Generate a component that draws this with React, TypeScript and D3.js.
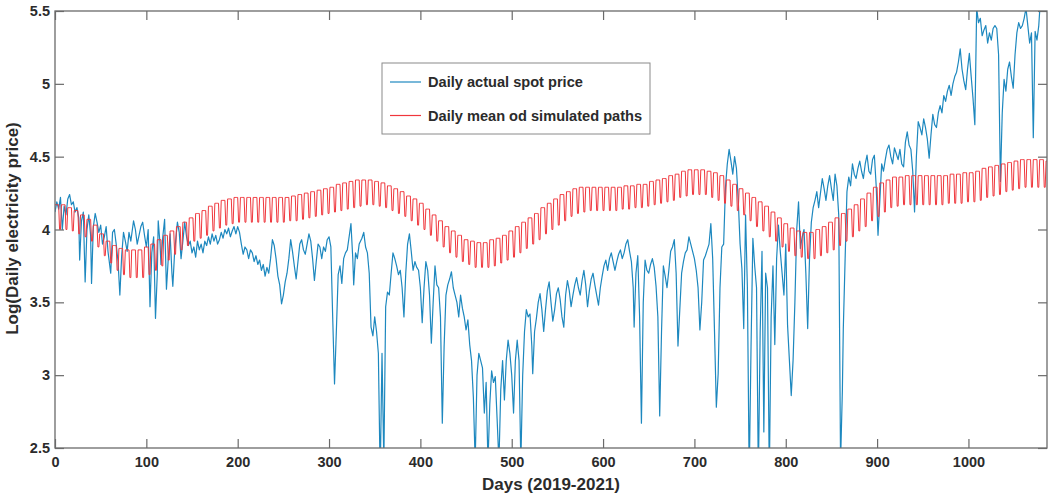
import React, { useEffect, useRef } from 'react';
import * as d3 from 'd3';

// x axis runs over the days of 2019-2021
const lastDay = 1086;
const xTicks = [0, 100, 200, 300, 400, 500, 600, 700, 800, 900, 1000];
const yTicks = [2.5, 3, 3.5, 4, 4.5, 5, 5.5];

// Daily actual spot price (log) as [day, value]
const spotPrice: [number, number][] = [
  [0, 4.12], [2, 4.19], [4, 4.14], [6, 4.22], [8, 4.0], [10, 4.16], [12, 4.1], [14, 4.21], [16, 4.24], [18, 4.17],
  [20, 4.19], [22, 4.12], [24, 4.15], [26, 4.08], [27, 3.79], [29, 4.06], [31, 4.12], [33, 3.64], [35, 4.0], [37, 4.1],
  [39, 3.96], [40, 3.63], [42, 4.02], [44, 4.11], [46, 4.05], [48, 3.98], [50, 4.03], [52, 3.9], [54, 3.95], [56, 4.02],
  [58, 3.85], [61, 3.7], [63, 3.98], [65, 4.0], [67, 3.9], [69, 3.78], [71, 3.55], [73, 3.82], [75, 3.98], [77, 3.92],
  [79, 3.85], [81, 3.98], [83, 3.92], [86, 4.06], [88, 4.0], [90, 3.9], [92, 3.96], [94, 4.02], [96, 4.05], [98, 3.96],
  [100, 3.88], [102, 4.0], [104, 3.47], [106, 3.84], [108, 3.95], [110, 3.39], [112, 3.7], [113, 4.06], [115, 3.9], [116, 3.76],
  [118, 3.95], [120, 4.07], [122, 3.59], [124, 3.8], [126, 3.97], [128, 3.7], [129, 3.61], [131, 3.85], [134, 4.05], [136, 3.98],
  [138, 3.8], [140, 3.92], [142, 4.05], [144, 3.95], [146, 3.89], [148, 3.92], [150, 3.84], [152, 3.88], [154, 3.81], [156, 3.92],
  [158, 3.86], [160, 3.9], [162, 3.84], [164, 3.92], [166, 3.89], [168, 3.95], [170, 3.9], [172, 3.97], [174, 3.92], [176, 3.96],
  [178, 3.9], [180, 3.93], [182, 3.98], [184, 3.94], [186, 4.0], [188, 3.97], [190, 4.01], [192, 3.95], [194, 3.99], [196, 4.02],
  [198, 3.97], [200, 4.02], [202, 3.98], [204, 3.9], [206, 3.83], [208, 3.88], [210, 3.86], [212, 3.8], [214, 3.86], [216, 3.84],
  [218, 3.78], [220, 3.82], [222, 3.76], [224, 3.79], [226, 3.72], [228, 3.76], [230, 3.68], [232, 3.74], [234, 3.7], [236, 3.8],
  [238, 3.93], [240, 3.89], [242, 3.8], [244, 3.68], [246, 3.62], [248, 3.49], [250, 3.55], [252, 3.64], [254, 3.7], [256, 3.8],
  [258, 3.93], [260, 3.85], [262, 3.75], [264, 3.66], [266, 3.78], [268, 3.9], [270, 3.93], [272, 3.86], [274, 3.83], [276, 3.9],
  [278, 3.97], [280, 3.92], [282, 3.8], [284, 3.65], [286, 3.78], [288, 3.9], [290, 3.88], [292, 3.8], [294, 3.88], [296, 3.85],
  [298, 3.93], [300, 3.95], [302, 3.88], [304, 3.4], [306, 2.94], [308, 3.3], [310, 3.69], [312, 3.75], [314, 3.63], [316, 3.8],
  [318, 3.84], [320, 3.86], [322, 3.95], [324, 4.04], [326, 3.8], [327, 3.62], [329, 3.84], [331, 3.8], [333, 3.9], [336, 3.94],
  [338, 3.98], [340, 3.88], [342, 3.84], [344, 3.7], [346, 3.33], [348, 3.27], [350, 3.4], [352, 3.3], [354, 3.15], [356, 2.3],
  [358, 3.15], [360, 2.4], [362, 3.47], [364, 3.57], [366, 3.55], [368, 3.7], [370, 3.84], [372, 3.8], [374, 3.75], [376, 3.69],
  [378, 3.72], [380, 3.6], [382, 3.4], [384, 3.7], [386, 3.9], [388, 3.97], [390, 3.85], [392, 3.72], [394, 3.78], [396, 3.74],
  [398, 3.72], [400, 3.6], [402, 3.36], [404, 3.6], [406, 3.78], [408, 3.72], [410, 3.55], [412, 3.22], [414, 3.5], [416, 3.75],
  [418, 3.62], [420, 3.6], [422, 3.4], [424, 2.67], [426, 3.2], [428, 3.55], [430, 3.62], [432, 3.66], [434, 3.71], [436, 3.6],
  [438, 3.55], [440, 3.5], [442, 3.4], [444, 3.55], [446, 3.46], [448, 3.4], [450, 3.31], [452, 3.38], [454, 3.21], [456, 3.1],
  [458, 2.85], [460, 2.4], [462, 3.0], [464, 3.15], [466, 3.1], [468, 3.05], [470, 2.74], [472, 2.95], [474, 2.4], [476, 2.8],
  [478, 3.03], [480, 2.95], [482, 2.99], [484, 2.7], [486, 2.4], [488, 2.9], [490, 3.1], [492, 2.83], [494, 3.1], [496, 3.24],
  [498, 3.15], [500, 3.0], [502, 2.74], [504, 3.1], [506, 3.24], [508, 3.1], [510, 2.4], [512, 3.0], [514, 3.3], [516, 3.45],
  [518, 3.4], [520, 3.42], [522, 3.2], [523, 3.01], [525, 3.3], [527, 3.39], [529, 3.5], [531, 3.56], [533, 3.45], [535, 3.3],
  [537, 3.45], [539, 3.58], [541, 3.64], [543, 3.5], [545, 3.37], [547, 3.45], [549, 3.56], [551, 3.6], [553, 3.52], [555, 3.4],
  [557, 3.33], [559, 3.55], [561, 3.65], [563, 3.58], [565, 3.47], [567, 3.55], [569, 3.62], [571, 3.67], [573, 3.6], [575, 3.55],
  [577, 3.65], [579, 3.72], [581, 3.62], [583, 3.47], [585, 3.58], [587, 3.66], [589, 3.7], [591, 3.62], [593, 3.55], [595, 3.48],
  [597, 3.6], [599, 3.68], [601, 3.75], [603, 3.79], [605, 3.72], [607, 3.8], [609, 3.84], [611, 3.78], [613, 3.72], [615, 3.78],
  [617, 3.83], [619, 3.86], [621, 3.8], [623, 3.84], [625, 3.9], [627, 3.93], [629, 3.85], [631, 3.78], [633, 3.6], [634, 3.33],
  [636, 3.7], [638, 3.82], [640, 3.4], [642, 2.67], [644, 3.5], [646, 3.79], [648, 3.72], [650, 3.7], [652, 3.76], [654, 3.8],
  [656, 3.74], [658, 3.61], [660, 3.4], [662, 2.72], [664, 3.3], [666, 3.75], [668, 3.68], [670, 3.6], [672, 3.72], [674, 3.85],
  [676, 3.88], [678, 3.93], [680, 3.7], [682, 3.2], [684, 3.45], [686, 3.7], [688, 3.78], [690, 3.84], [692, 3.86], [694, 3.95],
  [696, 3.9], [698, 3.85], [700, 3.8], [702, 3.72], [704, 3.6], [706, 3.31], [708, 3.5], [710, 3.79], [712, 3.82], [714, 3.86],
  [716, 3.9], [718, 4.04], [720, 3.8], [722, 3.3], [724, 2.78], [726, 3.01], [728, 3.6], [730, 3.88], [732, 3.9], [734, 4.29],
  [736, 4.45], [738, 4.55], [740, 4.47], [742, 4.38], [744, 4.5], [746, 4.42], [748, 4.2], [750, 3.9], [752, 3.73], [754, 3.32],
  [756, 4.1], [758, 3.6], [760, 2.3], [762, 3.2], [764, 3.94], [766, 3.75], [768, 3.6], [770, 2.3], [772, 3.3], [774, 3.85],
  [776, 2.61], [778, 3.7], [780, 3.6], [782, 2.3], [784, 3.4], [786, 3.75], [788, 3.21], [790, 3.8], [792, 4.03], [794, 3.85],
  [796, 3.7], [798, 3.55], [800, 3.9], [802, 3.34], [804, 3.1], [806, 2.86], [808, 3.1], [810, 3.5], [812, 4.0], [814, 4.19],
  [816, 3.87], [818, 3.95], [820, 4.0], [822, 3.7], [824, 3.32], [826, 3.8], [828, 4.05], [830, 4.15], [832, 4.2], [834, 4.26],
  [836, 4.15], [838, 4.25], [840, 4.35], [842, 4.28], [844, 4.2], [846, 4.3], [848, 4.37], [850, 4.28], [852, 4.2], [854, 4.38],
  [856, 4.3], [858, 4.1], [860, 2.4], [862, 2.9], [863, 3.32], [865, 3.8], [867, 4.26], [869, 4.36], [871, 4.3], [873, 4.45],
  [875, 4.38], [877, 4.35], [879, 4.42], [881, 4.47], [883, 4.4], [885, 4.35], [887, 4.45], [889, 4.51], [891, 4.4], [893, 4.38],
  [895, 4.48], [897, 4.51], [899, 4.3], [901, 3.96], [903, 4.2], [905, 4.45], [907, 4.4], [909, 4.48], [911, 4.55], [913, 4.58],
  [915, 4.5], [917, 4.45], [919, 4.56], [921, 4.52], [923, 4.48], [925, 4.55], [927, 4.45], [929, 4.43], [931, 4.6], [933, 4.67],
  [935, 4.58], [937, 4.55], [939, 4.4], [941, 4.12], [943, 4.5], [945, 4.74], [947, 4.7], [949, 4.65], [951, 4.76], [953, 4.7],
  [955, 4.62], [957, 4.49], [959, 4.65], [961, 4.79], [963, 4.72], [965, 4.7], [967, 4.8], [969, 4.85], [971, 4.8], [973, 4.92],
  [975, 4.88], [977, 4.95], [979, 4.99], [981, 4.92], [983, 5.0], [985, 5.05], [987, 5.08], [989, 5.15], [991, 5.24], [993, 5.1],
  [995, 5.02], [997, 4.96], [999, 5.1], [1001, 5.21], [1003, 5.05], [1005, 4.9], [1007, 4.72], [1009, 5.52], [1011, 5.42], [1013, 5.45],
  [1015, 5.33], [1017, 5.37], [1019, 5.4], [1021, 5.28], [1023, 5.35], [1025, 5.3], [1027, 5.38], [1029, 5.4], [1031, 5.38], [1033, 5.2],
  [1035, 4.33], [1037, 4.8], [1039, 5.03], [1041, 4.95], [1043, 5.1], [1045, 5.15], [1047, 5.05], [1049, 4.97], [1051, 5.2], [1053, 5.35],
  [1055, 5.42], [1057, 5.38], [1059, 5.4], [1061, 5.45], [1063, 5.52], [1065, 5.4], [1067, 5.28], [1069, 5.35], [1071, 4.63], [1073, 5.36],
  [1075, 5.3], [1077, 5.4], [1079, 5.6], [1081, 5.65], [1083, 5.7], [1086, 5.75],
];

// Daily mean of simulated paths: weekly working-day level and weekend level
const simWeekHigh = [
  4.17, 4.17, 4.15, 4.13, 4.1, 4.07, 4.03, 3.97, 3.92, 3.89,
  3.87, 3.86, 3.86, 3.86, 3.88, 3.9, 3.93, 3.96, 3.99, 4.02,
  4.05, 4.08, 4.11, 4.13, 4.16, 4.18, 4.2, 4.21, 4.22, 4.22,
  4.22, 4.22, 4.22, 4.22, 4.22, 4.22, 4.22, 4.23, 4.24, 4.25,
  4.26, 4.27, 4.28, 4.29, 4.31, 4.32, 4.33, 4.34, 4.34, 4.34,
  4.33, 4.32, 4.3, 4.28, 4.26, 4.23, 4.21, 4.18, 4.14, 4.1,
  4.06, 4.02, 3.99, 3.96, 3.93, 3.92, 3.91, 3.91, 3.93, 3.94,
  3.96, 3.99, 4.02, 4.05, 4.08, 4.11, 4.15, 4.18, 4.21, 4.24,
  4.26, 4.28, 4.29, 4.29, 4.29, 4.29, 4.29, 4.29, 4.29, 4.3,
  4.3, 4.31, 4.31, 4.33, 4.34, 4.35, 4.37, 4.38, 4.4, 4.41,
  4.41, 4.41, 4.4, 4.39, 4.37, 4.34, 4.31, 4.28, 4.25, 4.22,
  4.19, 4.16, 4.12, 4.08, 4.04, 4.01, 3.99, 3.98, 3.98, 4.0,
  4.02, 4.05, 4.08, 4.11, 4.14, 4.17, 4.21, 4.25, 4.29, 4.32,
  4.34, 4.36, 4.36, 4.37, 4.37, 4.37, 4.37, 4.37, 4.37, 4.37,
  4.38, 4.38, 4.39, 4.39, 4.4, 4.42, 4.43, 4.44, 4.45, 4.46,
  4.47, 4.48, 4.48, 4.48, 4.48, 4.47,
];
const simWeekLow = [
  4.0, 4.0, 3.99, 3.97, 3.95, 3.92, 3.88, 3.82, 3.77, 3.72,
  3.69, 3.67, 3.67, 3.67, 3.69, 3.72, 3.75, 3.79, 3.83, 3.86,
  3.89, 3.92, 3.94, 3.96, 3.99, 4.01, 4.03, 4.04, 4.05, 4.05,
  4.05, 4.05, 4.05, 4.05, 4.05, 4.05, 4.06, 4.06, 4.07, 4.08,
  4.09, 4.1, 4.11, 4.12, 4.13, 4.14, 4.15, 4.16, 4.17, 4.17,
  4.16, 4.15, 4.13, 4.11, 4.09, 4.06, 4.03, 4.0, 3.96, 3.92,
  3.88, 3.84, 3.81, 3.78, 3.76, 3.74, 3.74, 3.74, 3.75, 3.77,
  3.79, 3.81, 3.84, 3.87, 3.9, 3.93, 3.97, 4.0, 4.03, 4.06,
  4.09, 4.11, 4.12, 4.13, 4.13, 4.13, 4.13, 4.13, 4.14, 4.14,
  4.15, 4.15, 4.16, 4.17, 4.18, 4.19, 4.2, 4.22, 4.23, 4.24,
  4.24, 4.24, 4.22, 4.2, 4.18, 4.16, 4.13, 4.1, 4.06, 4.02,
  3.99, 3.95, 3.92, 3.88, 3.85, 3.82, 3.81, 3.8, 3.8, 3.82,
  3.84, 3.86, 3.89, 3.92, 3.95, 3.99, 4.02, 4.06, 4.09, 4.12,
  4.15, 4.16, 4.17, 4.17, 4.17, 4.17, 4.17, 4.17, 4.17, 4.18,
  4.18, 4.18, 4.19, 4.19, 4.2, 4.22, 4.23, 4.24, 4.26, 4.27,
  4.28, 4.29, 4.29, 4.29, 4.29, 4.28,
];
// which level each day of the week sits on
const weekdayLevel = ['high', 'high', 'high', 'high', 'high', 'low', 'low'];

const seriesNames = ['Daily actual spot price', 'Daily mean od simulated paths'];
const seriesColors = ['#1d88bf', '#f0363c'];

const W = 1048, H = 496;
const margin = { top: 11, right: 1, bottom: 48, left: 55 };
const font = '"Liberation Sans", Arial, Helvetica, sans-serif';
const axisGray = '#6a6a6a';
const textGray = '#2b2b2b';

function App() {
  const ref = useRef<SVGSVGElement>(null);

  useEffect(() => {
    const svg = d3.select(ref.current);
    svg.selectAll('*').remove();

    const width = W - margin.left - margin.right;
    const height = H - margin.top - margin.bottom;

    const x = d3.scaleLinear().domain([0, lastDay]).range([0, width]);
    const y = d3.scaleLinear().domain([2.5, 5.5]).range([height, 0]);

    const chart = svg.append('g').attr('transform', `translate(${margin.left},${margin.top})`);

    chart.append('clipPath').attr('id', 'plotClip')
      .append('rect').attr('width', width).attr('height', height);

    // simulated mean, expanded week by week
    const simPoints: [number, number][] = [];
    simWeekHigh.forEach((hi, w) => {
      weekdayLevel.forEach((lvl, d) => {
        const day = w * 7 + d;
        if (day > lastDay) return;
        simPoints.push([day, lvl === 'high' ? hi : simWeekLow[w]]);
      });
    });

    const line = d3.line<[number, number]>()
      .x(d => x(d[0]))
      .y(d => y(d[1]));

    const plot = chart.append('g').attr('clip-path', 'url(#plotClip)');

    plot.append('path')
      .datum(spotPrice)
      .attr('d', line)
      .attr('fill', 'none')
      .attr('stroke', seriesColors[0])
      .attr('stroke-width', 1.2)
      .attr('stroke-linejoin', 'round');

    plot.append('path')
      .datum(simPoints)
      .attr('d', line)
      .attr('fill', 'none')
      .attr('stroke', seriesColors[1])
      .attr('stroke-width', 1)
      .attr('stroke-linejoin', 'miter');

    // ------- AXES (inward ticks, matlab style box) -------
    const styleAxis = (g: any) => {
      g.select('.domain').remove();
      g.selectAll('.tick line').attr('stroke', axisGray).attr('stroke-width', 1.2);
      g.selectAll('.tick text')
        .attr('fill', textGray)
        .style('font-family', font)
        .style('font-size', '14.5px')
        .style('font-weight', 'bold');
    };

    chart.append('g')
      .attr('transform', `translate(0,${height})`)
      .call(d3.axisBottom(x).tickValues(xTicks).tickSizeInner(-9).tickSizeOuter(0).tickPadding(9).tickFormat(d3.format('d')))
      .call(styleAxis);

    chart.append('g')
      .call(d3.axisTop(x).tickValues(xTicks).tickSizeInner(-9).tickSizeOuter(0).tickFormat(() => ''))
      .call(styleAxis);

    chart.append('g')
      .call(d3.axisLeft(y).tickValues(yTicks).tickSizeInner(-9).tickSizeOuter(0).tickPadding(5).tickFormat(d => String(d)))
      .call(styleAxis);

    chart.append('g')
      .attr('transform', `translate(${width},0)`)
      .call(d3.axisRight(y).tickValues(yTicks).tickSizeInner(-9).tickSizeOuter(0).tickFormat(() => ''))
      .call(styleAxis);

    chart.append('rect')
      .attr('width', width).attr('height', height)
      .attr('fill', 'none')
      .attr('stroke', axisGray)
      .attr('stroke-width', 1.3);

    // ------- Labels -------
    chart.append('text')
      .attr('x', width / 2)
      .attr('y', height + 42)
      .attr('text-anchor', 'middle')
      .attr('fill', textGray)
      .style('font-family', font)
      .style('font-size', '17px')
      .style('font-weight', 'bold')
      .text('Days (2019-2021)');

    chart.append('text')
      .attr('transform', 'rotate(-90)')
      .attr('x', -height / 2 + 1)
      .attr('y', -margin.left + 18)
      .attr('text-anchor', 'middle')
      .attr('fill', textGray)
      .style('font-family', font)
      .style('font-size', '17px')
      .style('font-weight', 'bold')
      .text('Log(Daily electricity price)');

    // ------- Legend -------
    const legend = svg.append('g').attr('transform', 'translate(382,63)');
    legend.append('rect')
      .attr('width', 268).attr('height', 71)
      .attr('fill', '#fff')
      .attr('stroke', '#8a8a8a')
      .attr('stroke-width', 1);

    const item = legend.selectAll('g.item')
      .data(seriesNames)
      .enter()
      .append('g')
      .attr('class', 'item')
      .attr('transform', (d, i) => `translate(0,${19 + i * 33.5})`);

    item.append('line')
      .attr('x1', 8).attr('x2', 39)
      .attr('stroke', (d, i) => seriesColors[i])
      .attr('stroke-width', 1.2);

    item.append('text')
      .attr('x', 46)
      .attr('dy', '0.35em')
      .attr('fill', textGray)
      .style('font-family', font)
      .style('font-size', '14.6px')
      .style('font-weight', 'bold')
      .text(d => d);
  }, []);

  return (
    <svg ref={ref} width={W} height={H}
         style={{ position: 'absolute', left: 0, top: 0, background: '#fff', display: 'block' }} />
  );
}

export default App;
